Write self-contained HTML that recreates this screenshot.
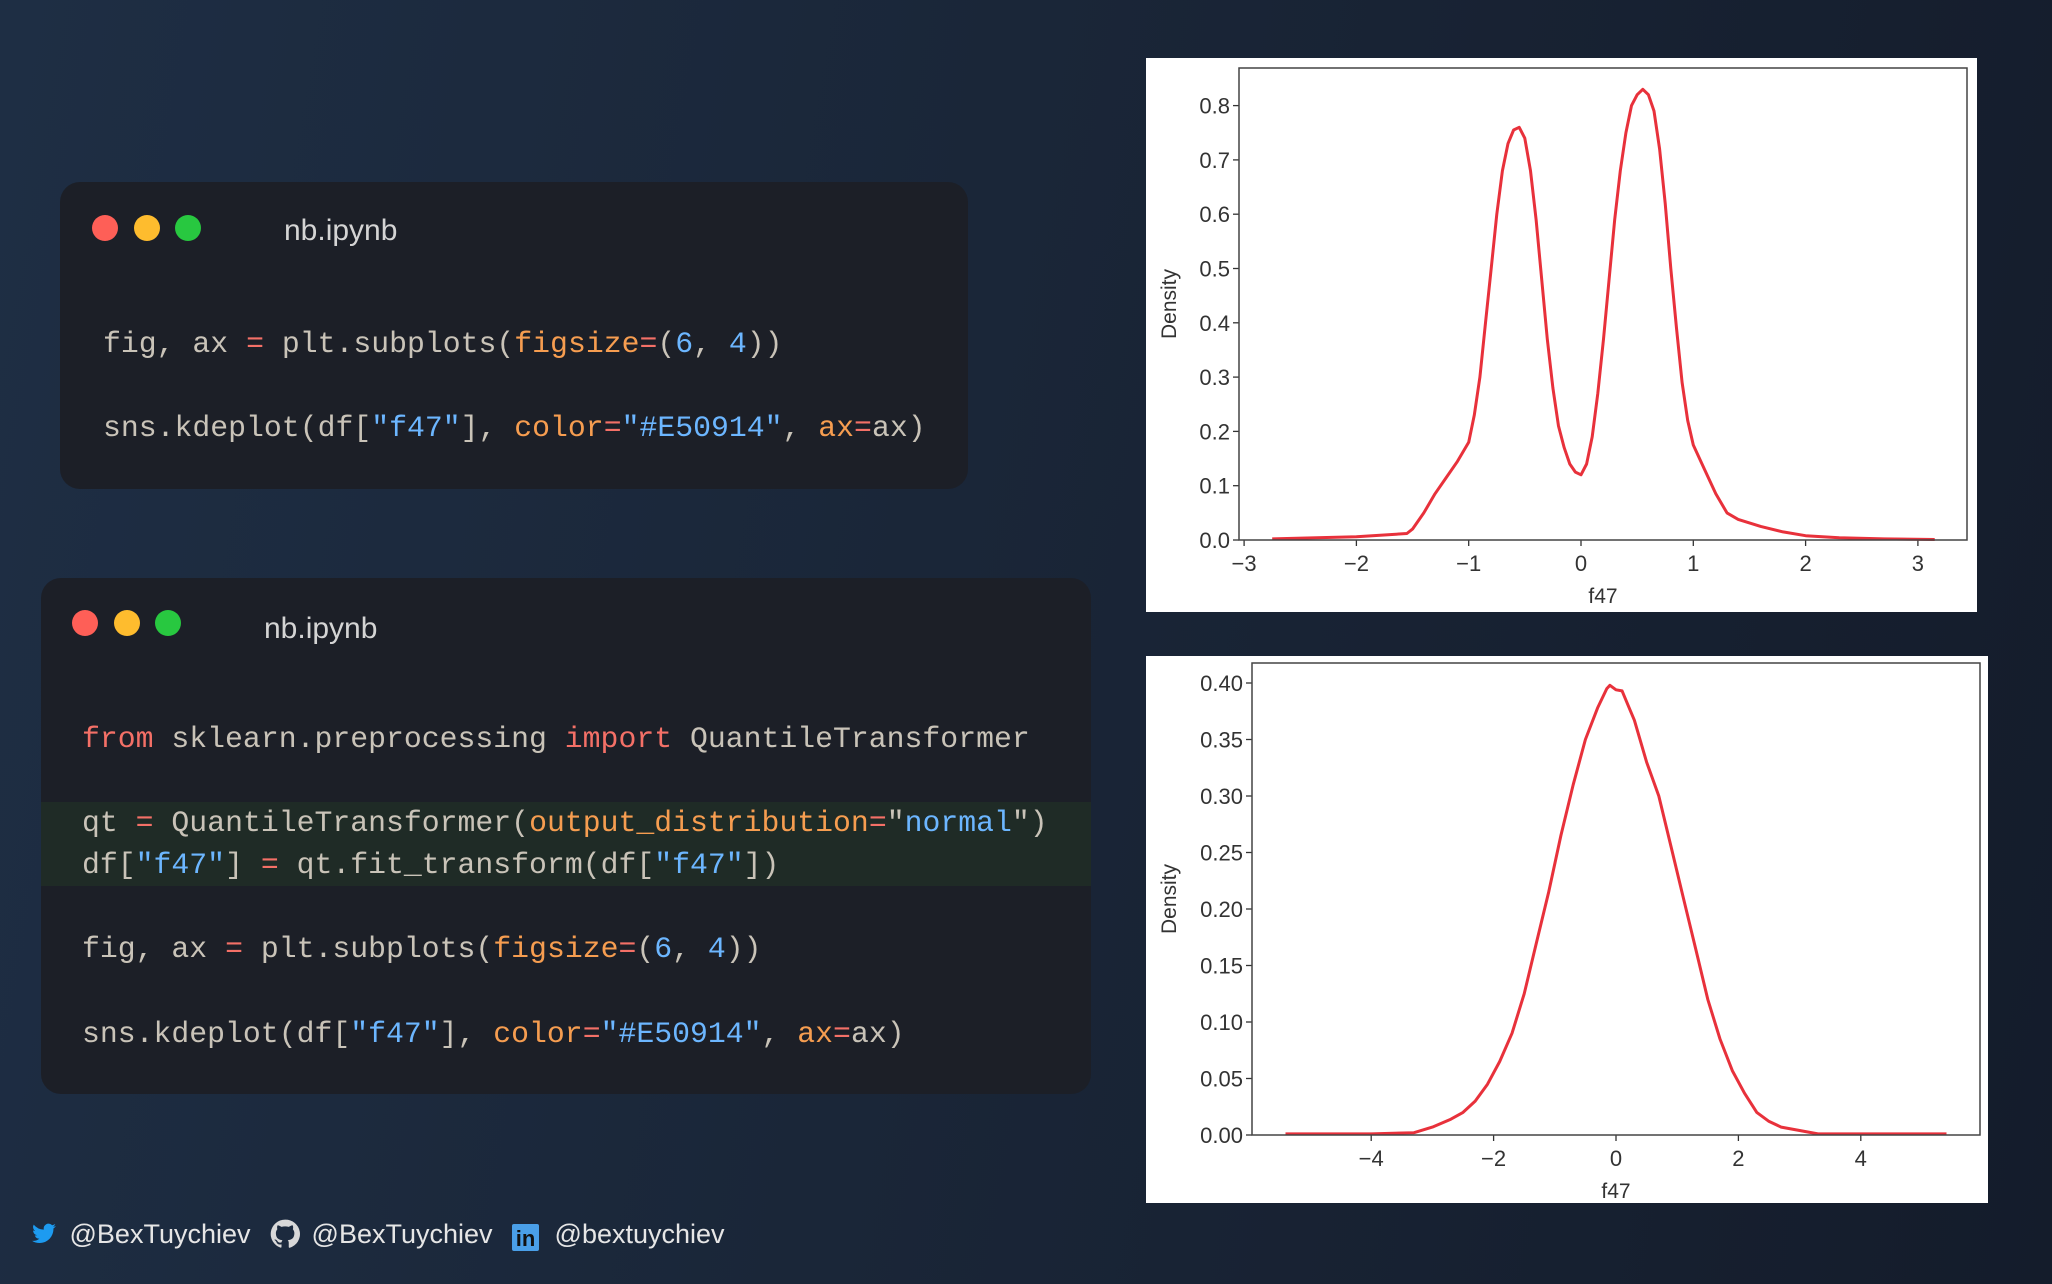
<!DOCTYPE html>
<html><head><meta charset="utf-8">
<style>
html,body{margin:0;padding:0}
body{width:2052px;height:1284px;overflow:hidden;position:relative;background:linear-gradient(100deg,#1e2e44 0%,#1a2638 45%,#141c2b 100%);font-family:"Liberation Sans",sans-serif}
.win{position:absolute;background:#1c1f27;border-radius:20px;overflow:hidden}
.dot{position:absolute;width:26px;height:26px;border-radius:50%}
.title{position:absolute;color:#d4d4d4;font-size:30px}
.code{position:absolute;font-family:"Liberation Mono",monospace;font-size:29.8px;color:#c9c3b8;white-space:pre;line-height:36px}
.k{color:#f47067}.o{color:#f69d50}.b{color:#6cb6ff}
.hl{position:absolute;background:#1f2b26}
.foot{position:absolute;top:1216px;color:#e6e6e6;font-size:27px;line-height:36px}
</style></head><body>
<div class="win" style="left:60px;top:182px;width:908px;height:307px">
 <div class="dot" style="left:32px;top:33px;background:#fe5f57"></div>
 <div class="dot" style="left:74px;top:33px;background:#febc2e"></div>
 <div class="dot" style="left:115px;top:33px;background:#28c840"></div>
 <div class="title" style="left:224px;top:32px">nb.ipynb</div>
 <div class="code" style="left:43px;top:144px">fig, ax <span class="k">=</span> plt.subplots(<span class="o">figsize</span><span class="k">=</span>(<span class="b">6</span>, <span class="b">4</span>))</div>
 <div class="code" style="left:43px;top:228px">sns.kdeplot(df[<span class="b">"f47"</span>], <span class="o">color</span><span class="k">=</span><span class="b">"#E50914"</span>, <span class="o">ax</span><span class="k">=</span>ax)</div>
</div>
<div class="win" style="left:41px;top:578px;width:1050px;height:516px">
 <div class="dot" style="left:31px;top:32px;background:#fe5f57"></div>
 <div class="dot" style="left:73px;top:32px;background:#febc2e"></div>
 <div class="dot" style="left:114px;top:32px;background:#28c840"></div>
 <div class="title" style="left:223px;top:34px">nb.ipynb</div>
 <div class="hl" style="left:0;top:224px;width:1050px;height:84px"></div>
 <div class="code" style="left:41px;top:143px"><span class="k">from</span> sklearn.preprocessing <span class="k">import</span> QuantileTransformer</div>
 <div class="code" style="left:41px;top:227px">qt <span class="k">=</span> QuantileTransformer(<span class="o">output_distribution</span><span class="k">=</span>"<span class="b">normal</span>")</div>
 <div class="code" style="left:41px;top:269px">df[<span class="b">"f47"</span>] <span class="k">=</span> qt.fit_transform(df[<span class="b">"f47"</span>])</div>
 <div class="code" style="left:41px;top:353px">fig, ax <span class="k">=</span> plt.subplots(<span class="o">figsize</span><span class="k">=</span>(<span class="b">6</span>, <span class="b">4</span>))</div>
 <div class="code" style="left:41px;top:438px">sns.kdeplot(df[<span class="b">"f47"</span>], <span class="o">color</span><span class="k">=</span><span class="b">"#E50914"</span>, <span class="o">ax</span><span class="k">=</span>ax)</div>
</div>

<div class="foot" style="left:30px">
 <svg width="28" height="26" viewBox="0 0 24 24" style="vertical-align:-4px"><path fill="#1d9bf0" d="M23 4.6c-.8.4-1.7.6-2.6.7.9-.6 1.6-1.4 2-2.5-.9.5-1.9.9-2.9 1.1A4.5 4.5 0 0 0 11.8 8 12.8 12.8 0 0 1 2.5 3.3a4.5 4.5 0 0 0 1.4 6 4.5 4.5 0 0 1-2-.6v.1a4.5 4.5 0 0 0 3.6 4.4 4.5 4.5 0 0 1-2 .1 4.5 4.5 0 0 0 4.2 3.1A9 9 0 0 1 1 18.3 12.8 12.8 0 0 0 7.9 20.3c8.3 0 12.8-6.9 12.8-12.8v-.6c.9-.6 1.6-1.4 2.3-2.3z"/></svg>
 <span style="margin-left:4px">@BexTuychiev</span>
 <svg width="30" height="30" viewBox="0 0 24 24" style="vertical-align:-6px;margin-left:12px"><path fill="#d8d8d8" d="M12 .5a11.5 11.5 0 0 0-3.6 22.4c.6.1.8-.3.8-.6v-2c-3.2.7-3.9-1.5-3.900-1.5-.5-1.3-1.300-1.700-1.300-1.700-1-.7.1-.7.1-.7 1.2.1 1.8 1.2 1.8 1.2 1 1.8 2.7 1.3 3.4 1 .1-.8.4-1.3.7-1.600-2.600-.3-5.300-1.300-5.300-5.700 0-1.300.5-2.300 1.200-3.100-.1-.3-.5-1.500.1-3.100 0 0 1-.3 3.200 1.200a11 11 0 0 1 5.800 0c2.200-1.500 3.200-1.200 3.200-1.200.6 1.600.2 2.800.1 3.100.7.8 1.200 1.900 1.200 3.100 0 4.400-2.700 5.400-5.300 5.700.4.4.8 1.100.8 2.200v3.200c0 .3.2.7.8.6A11.5 11.5 0 0 0 12 .5z"/></svg>
 <span style="margin-left:4px">@BexTuychiev</span>
 <span style="display:inline-block;width:27px;height:27px;background:#4a9fe8;color:#111;font-weight:bold;font-size:22px;line-height:29px;text-align:center;vertical-align:-3px;margin-left:12px;border-radius:2px">in</span>
 <span style="margin-left:8px">@bextuychiev</span>
</div>

<svg id="charts" width="2052" height="1284" style="position:absolute;left:0;top:0" xmlns="http://www.w3.org/2000/svg"></svg>
<script>
const xs1=[-2.75,-2.0,-1.7,-1.55,-1.5,-1.4,-1.3,-1.2,-1.1,-1.0,-0.95,-0.9,-0.85,-0.8,-0.75,-0.7,-0.65,-0.6,-0.55,-0.5,-0.45,-0.4,-0.35,-0.3,-0.25,-0.2,-0.15,-0.1,-0.05,0,0.05,0.1,0.15,0.2,0.25,0.3,0.35,0.4,0.45,0.5,0.55,0.6,0.65,0.7,0.75,0.8,0.85,0.9,0.95,1.0,1.1,1.2,1.3,1.4,1.6,1.8,2.0,2.3,2.7,3.15];
const ys1=[0.002,0.006,0.01,0.012,0.02,0.05,0.085,0.115,0.145,0.18,0.23,0.3,0.4,0.5,0.6,0.68,0.73,0.755,0.76,0.74,0.68,0.59,0.48,0.37,0.28,0.21,0.17,0.14,0.125,0.12,0.14,0.19,0.27,0.37,0.48,0.59,0.68,0.75,0.8,0.82,0.83,0.82,0.79,0.72,0.62,0.5,0.39,0.29,0.22,0.175,0.13,0.085,0.05,0.038,0.025,0.015,0.008,0.004,0.002,0.001];
const xs2=[-5.4,-4,-3.3,-3.0,-2.7,-2.5,-2.3,-2.1,-1.9,-1.7,-1.5,-1.3,-1.1,-0.9,-0.7,-0.5,-0.3,-0.15,-0.1,0,0.1,0.2,0.3,0.5,0.7,0.9,1.1,1.3,1.5,1.7,1.9,2.1,2.3,2.5,2.7,3.0,3.3,4,5.4];
const ys2=[0.001,0.001,0.002,0.007,0.014,0.02,0.03,0.045,0.065,0.09,0.125,0.17,0.215,0.265,0.31,0.35,0.378,0.395,0.398,0.394,0.393,0.38,0.367,0.33,0.3,0.255,0.21,0.165,0.12,0.085,0.057,0.037,0.02,0.012,0.007,0.004,0.001,0.001,0.001];
const xt1=[-3,-2,-1,0,1,2,3], xl1=["\u22123","\u22122","\u22121","0","1","2","3"];
const yt1=[0,0.1,0.2,0.3,0.4,0.5,0.6,0.7,0.8], yl1=["0.0","0.1","0.2","0.3","0.4","0.5","0.6","0.7","0.8"];
const xt2=[-4,-2,0,2,4], xl2=["\u22124","\u22122","0","2","4"];
const yt2=[0,0.05,0.1,0.15,0.2,0.25,0.3,0.35,0.4], yl2=["0.00","0.05","0.10","0.15","0.20","0.25","0.30","0.35","0.40"];
const NS="http://www.w3.org/2000/svg", svg=document.getElementById('charts');
function el(t,a,p){const e=document.createElementNS(NS,t);for(const k in a)e.setAttribute(k,a[k]);(p||svg).appendChild(e);return e;}
function chart(c){
 const g=el('g',{});
 
 
 const bg=el('rect',{x:c.px,y:c.py,width:c.pw,height:c.ph,fill:'#fff'},g);
 
 
 const sx=v=>c.x0+v*c.ux, sy=v=>c.y0-v*c.uy;
 c.xt.forEach((v,i)=>{
  const t=el('line',{x1:sx(v),x2:sx(v),y1:c.ab,y2:c.ab+6,stroke:'#333','stroke-width':1.3},g);
  
  
  const tx=el('text',{x:sx(v),y:c.ab+31,'text-anchor':'middle','font-size':22,fill:'#333','font-family':'Liberation Sans Narrow, Liberation Sans, sans-serif'},g);
  tx.textContent=c.xl[i];
  
  
 });
 c.yt.forEach((v,i)=>{
  const t=el('line',{x1:c.al-6,x2:c.al,y1:sy(v),y2:sy(v),stroke:'#333','stroke-width':1.3},g);
  
  
  const tx=el('text',{x:c.al-9,y:sy(v)+8,'text-anchor':'end','font-size':22,fill:'#333','font-family':'Liberation Sans Narrow, Liberation Sans, sans-serif'},g);
  tx.textContent=c.yl[i];
  
  
 });
 const d=c.xs.map((v,i)=>(i?'L':'M')+sx(v).toFixed(1)+','+sy(c.ys[i]).toFixed(1)).join(' ');
 const p=el('path',{d:d,fill:'none',stroke:'#e8313b','stroke-width':3,'stroke-linejoin':'round'},g);
 
 
 const fr=el('rect',{x:c.al,y:c.at,width:c.ar-c.al,height:c.ab-c.at,fill:'none',stroke:'#444','stroke-width':1.5},g);
 
 
 const xt=el('text',{x:(c.al+c.ar)/2,y:c.ab+63,'text-anchor':'middle','font-size':21,fill:'#333'},g);
 xt.textContent='f47';
 
 
 const yy=(c.at+c.ab)/2;
 const yt=el('text',{x:c.px+30,y:yy,'text-anchor':'middle','font-size':21,fill:'#333',transform:'rotate(-90 '+(c.px+30)+' '+yy+')'},g);
 yt.textContent='Density';
 
 
}
chart({name:'kde-chart-original',px:1146,py:58,pw:831,ph:554,al:1239,ar:1967,at:68,ab:540,x0:1581,ux:112.3,y0:540,uy:543,xs:xs1,ys:ys1,xt:xt1,xl:xl1,yt:yt1,yl:yl1});
chart({name:'kde-chart-transformed',px:1146,py:656,pw:842,ph:547,al:1252,ar:1980,at:663,ab:1135,x0:1616,ux:61.2,y0:1135,uy:1130,xs:xs2,ys:ys2,xt:xt2,xl:xl2,yt:yt2,yl:yl2});
</script>
</body></html>
